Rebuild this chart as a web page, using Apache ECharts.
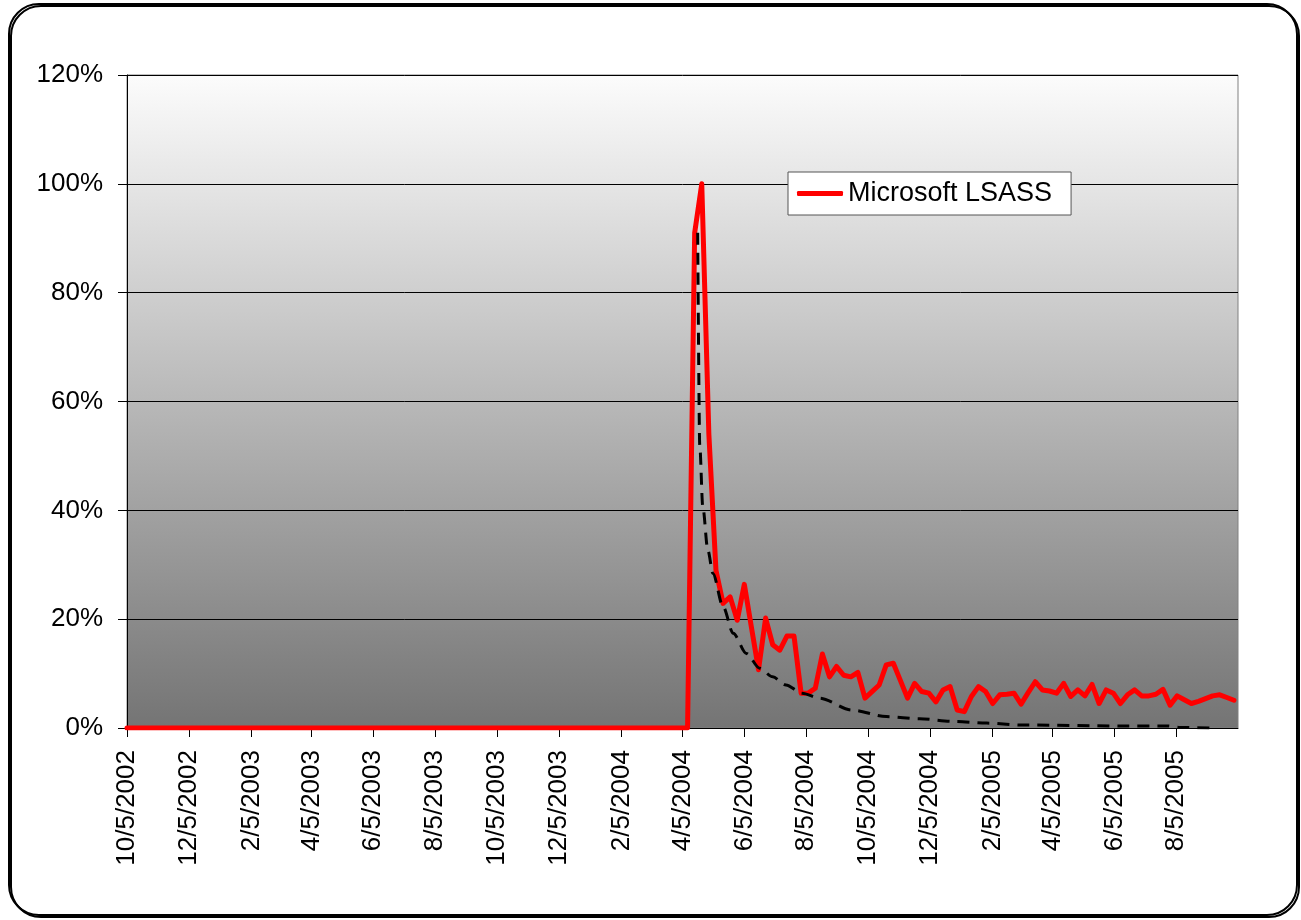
<!DOCTYPE html>
<html>
<head>
<meta charset="utf-8">
<title>Microsoft LSASS</title>
<script src="https://cdn.jsdelivr.net/npm/echarts@6/dist/echarts.min.js"></script>
<style>
  html, body { margin: 0; padding: 0; background: #fff; }
  #main { width: 1301px; height: 920px; }
</style>
</head>
<body>
<div id="main"></div>
<script>
// weekly samples, first one on 10/5/2002
const startDate = '2002-10-05'
const seriesName = 'Microsoft LSASS'

// share (%) per week
const lsassValues = [
  0, 0, 0, 0, 0, 0, 0, 0, 0, 0, 0, 0, 0, 0, 0, 0, 0, 0, 0, 0,
  0, 0, 0, 0, 0, 0, 0, 0, 0, 0, 0, 0, 0, 0, 0, 0, 0, 0, 0, 0,
  0, 0, 0, 0, 0, 0, 0, 0, 0, 0, 0, 0, 0, 0, 0, 0, 0, 0, 0, 0,
  0, 0, 0, 0, 0, 0, 0, 0, 0, 0, 0, 0, 0, 0, 0, 0, 0, 0, 0, 0,
  91, 100, 54, 29,
  22.9, 24.1, 19.8, 26.4, 18.5, 10.7, 20.2, 15.3, 14.3, 16.9, 16.9, 6.4, 6.4, 7.3,
  13.6, 9.4, 11.3, 9.7, 9.4, 10.2, 5.5, 6.7, 7.9, 11.6, 11.9, 8.7, 5.5, 8.2,
  6.7, 6.4, 4.8, 7.0, 7.6, 3.3, 3.0, 5.8, 7.6, 6.7, 4.5, 6.1, 6.2, 6.4,
  4.4, 6.5, 8.5, 7.0, 6.8, 6.4, 8.2, 5.8, 7.0, 5.9, 8.0, 4.5, 7.0, 6.4,
  4.5, 6.1, 7.0, 5.9, 5.9, 6.2, 7.1, 4.2, 5.9, 5.2, 4.5, 4.9, 5.4, 5.9, 6.1, 5.6, 5.1
]

// dashed trend curve
const trendDates = [
  '2004-04-20', '2004-04-22', '2004-04-25', '2004-04-30', '2004-05-05', '2004-05-15',
  '2004-05-25', '2004-06-07', '2004-06-20', '2004-07-03', '2004-07-16', '2004-08-01',
  '2004-08-18', '2004-09-19', '2004-10-23', '2004-11-25', '2004-12-28', '2005-01-30',
  '2005-03-04', '2005-06-11', '2005-07-27', '2005-08-09', '2005-09-08'
]
const trendValues = [
  91, 52, 40.7, 32.7, 28.4, 22.3,
  17.4, 13.7, 11, 9.4, 7.9, 6.4,
  5.5, 3.3, 2.1, 1.7, 1.2, 0.9,
  0.55, 0.37, 0.37, 0.1, 0
]

const tickLabels = [
  '10/5/2002', '12/5/2002', '2/5/2003', '4/5/2003', '6/5/2003', '8/5/2003',
  '10/5/2003', '12/5/2003', '2/5/2004', '4/5/2004', '6/5/2004', '8/5/2004',
  '10/5/2004', '12/5/2004', '2/5/2005', '4/5/2005', '6/5/2005', '8/5/2005'
]
const axisEnd = '2005-10-05'

const DAY = 24 * 3600 * 1000
function isoToTime (s) {
  const p = s.split('-')
  return Date.UTC(+p[0], +p[1] - 1, +p[2])
}
function mdyToTime (s) {
  const p = s.split('/')
  return Date.UTC(+p[2], +p[0] - 1, +p[1])
}

const t0 = isoToTime(startDate)
const lsassData = []
for (let i = 0; i < lsassValues.length; i++) {
  lsassData.push([t0 + i * 7 * DAY, lsassValues[i]])
}
const trendData = []
for (let i = 0; i < trendDates.length; i++) {
  trendData.push([isoToTime(trendDates[i]), trendValues[i]])
}
const tickValues = tickLabels.map(mdyToTime)

const font = 'Liberation Sans, Arial, sans-serif'

const chart = echarts.init(document.getElementById('main'))
const option = {
  animation: false,
  backgroundColor: '#fff',
  graphic: [
    {
      type: 'rect',
      z: -10,
      shape: { x: 9, y: 4, width: 1288, height: 911, r: 30 },
      style: {
        fill: 'none',
        stroke: '#000',
        lineWidth: 2,
        shadowColor: '#000',
        shadowOffsetX: 2,
        shadowOffsetY: 2
      }
    }
  ],
  grid: {
    left: 127,
    right: 63,
    top: 75,
    bottom: 192,
    show: true,
    borderColor: '#808080',
    borderWidth: 1,
    backgroundColor: new echarts.graphic.LinearGradient(0, 0, 0, 1, [
      { offset: 0, color: '#fcfcfc' },
      { offset: 1, color: '#747474' }
    ]),
    outerBoundsMode: 'none'
  },
  legend: {
    data: [seriesName],
    left: 788,
    top: 172,
    padding: [8, 19, 8, 9],
    backgroundColor: '#fff',
    borderColor: '#555',
    borderWidth: 1,
    icon: 'roundRect',
    itemWidth: 46,
    itemHeight: 5,
    textStyle: { fontFamily: font, fontSize: 27, color: '#000' }
  },
  xAxis: {
    type: 'value',
    min: t0,
    max: isoToTime(axisEnd),
    axisLine: { lineStyle: { color: '#000', width: 1 } },
    axisTick: { show: true, length: 9, customValues: tickValues, lineStyle: { color: '#000' } },
    axisLabel: {
      customValues: tickValues,
      rotate: 90,
      margin: 22,
      fontFamily: font,
      fontSize: 26,
      color: '#000',
      hideOverlap: false,
      formatter: function (v) {
        const d = new Date(v)
        return (d.getUTCMonth() + 1) + '/' + d.getUTCDate() + '/' + d.getUTCFullYear()
      }
    },
    splitLine: { show: false }
  },
  yAxis: {
    type: 'value',
    min: 0,
    max: 120,
    interval: 20,
    axisLine: { show: true, lineStyle: { color: '#000', width: 1 } },
    axisTick: { show: true, length: 9, lineStyle: { color: '#000' } },
    axisLabel: {
      formatter: '{value}%',
      margin: 24,
      fontFamily: font,
      fontSize: 26,
      color: '#000'
    },
    splitLine: { show: true, lineStyle: { color: '#000', width: 1 } }
  },
  series: [
    {
      name: seriesName,
      type: 'line',
      data: lsassData,
      showSymbol: false,
      symbol: 'none',
      z: 3,
      lineStyle: { color: '#ff0000', width: 5, cap: 'round', join: 'round' },
      itemStyle: { color: '#ff0000' }
    },
    {
      name: 'trend',
      type: 'line',
      data: trendData,
      showSymbol: false,
      symbol: 'none',
      smooth: 0.3,
      smoothMonotone: 'x',
      z: 4,
      lineStyle: { color: '#000', width: 3, type: [12, 8] },
      itemStyle: { color: '#000' }
    }
  ]
}
chart.setOption(option)
</script>
</body>
</html>
